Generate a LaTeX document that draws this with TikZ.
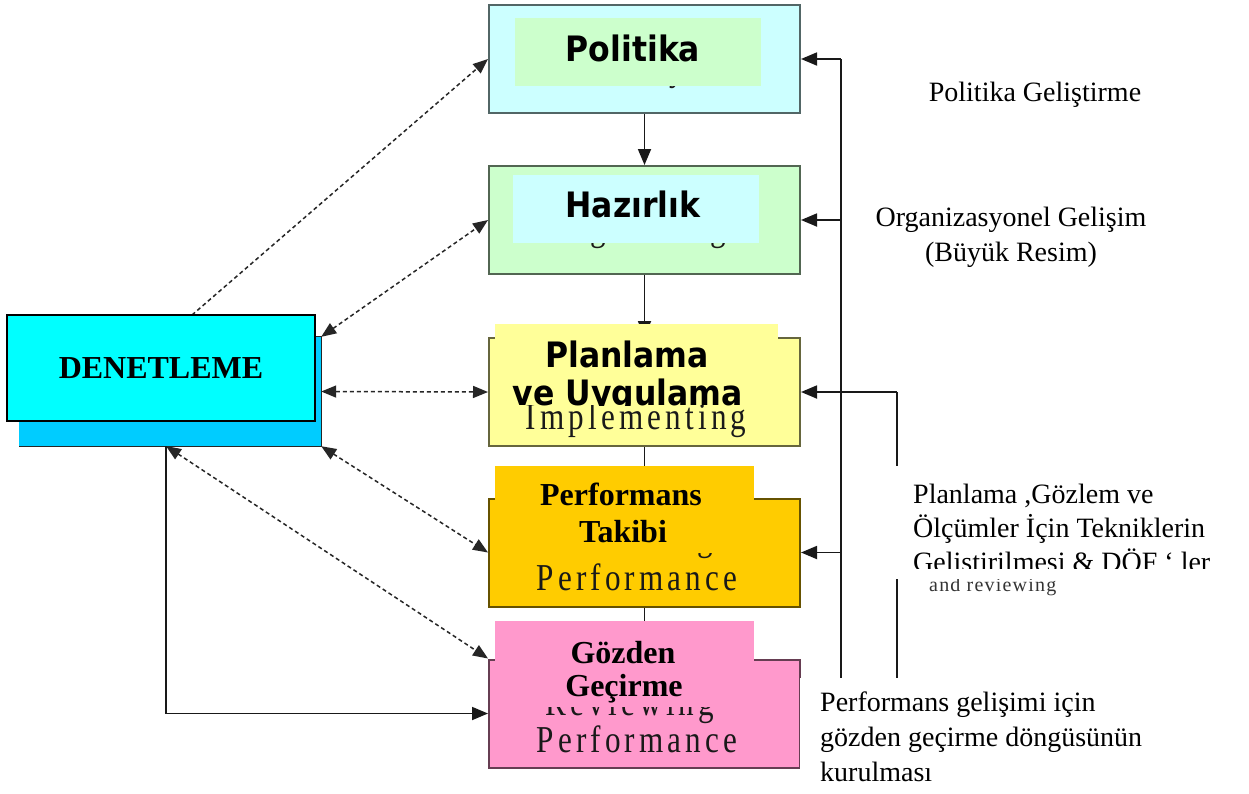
\documentclass[tikz,border=0pt]{standalone}
\usepackage{fontspec}
\setmainfont{Liberation Serif}
\newfontfamily\headsans[FakeStretch=0.9]{DejaVu Sans}
\newfontfamily\ghostserif[FakeStretch=0.82,LetterSpace=11]{Liberation Serif}
\newfontfamily\noteserif[LetterSpace=6]{Liberation Serif}
\usetikzlibrary{arrows.meta,calc}

\definecolor{polfill}{HTML}{CCFFFF}
\definecolor{hazfill}{HTML}{CCFFCC}
\definecolor{planfill}{HTML}{FFFF99}
\definecolor{perffill}{HTML}{FFCC00}
\definecolor{gozfill}{HTML}{FF99CC}
\definecolor{denfill}{HTML}{00FFFF}
\definecolor{denshade}{HTML}{00CCFF}

\tikzset{
  stage/.style={draw=#1!40!black, fill=#1, line width=2pt,
    minimum width=311pt, minimum height=108pt, inner sep=0pt},
  ghost/.style={font=\ghostserif\fontsize{38}{40}\selectfont, text=black!90,
    anchor=base, inner sep=0pt},
  headtxt/.style={font=\headsans\bfseries\fontsize{35}{38}\selectfont,
    anchor=base, inner sep=0pt},
  boldtxt/.style={font=\bfseries\fontsize{32}{36}\selectfont,
    anchor=base, inner sep=0pt},
  notetxt/.style={font=\fontsize{28}{32}\selectfont, anchor=base, inner sep=0pt},
  link/.style={line width=1.8pt, draw=black!90},
  arr/.style={link, -{Triangle[length=16pt,width=13pt]}},
  dashlink/.style={line width=1.5pt, draw=black!85, dash pattern=on 4pt off 3pt},
  dlink/.style={dashlink,
    {Triangle[length=15pt,width=12pt]}-{Triangle[length=15pt,width=12pt]}},
  dlinkone/.style={dashlink, -{Triangle[length=15pt,width=12pt]}},
}

\begin{document}
\begin{tikzpicture}[x=1pt,y=-1pt]
\useasboundingbox (0,0) rectangle (1249,793);
\fill[white] (0,0) rectangle (1249,793);

% ---- stage column ----
\node[stage=polfill]  (pol)  at (644.5,59)    {};
\node[stage=hazfill]  (haz)  at (644.5,220)   {};
\node[stage=planfill] (plan) at (644.5,392)   {};
\node[stage=perffill] (perf) at (644.5,552.5) {};
\node[stage=gozfill]  (goz)  at (644.5,713.5) {};

% original English captions underneath the Turkish labels
\node[ghost] (polE)   at (635,80)  {Policy};
\node[ghost] (hazE)   at (638,240) {Organising};
\node[ghost] (planE)  at (636,429) {Implementing};
\node[ghost] (perfE1) at (630,550) {Measuring};
\node[ghost] (perfE2) at (637,590) {Performance};
\node[ghost] (gozE1)  at (630,715) {Reviewing};
\node[ghost] (gozE2)  at (637,752) {Performance};

% links down the column
\draw[arr] (pol.south)  -- (haz.north);
\draw[arr] (haz.south)  -- (plan.north);
\draw[arr] (plan.south) -- (perf.north);
\draw[arr] (perf.south) -- (goz.north);

% Turkish label panels
\begin{scope}
  \clip (515,18) rectangle (761,86);
  \fill[hazfill] (515,18) rectangle (761,86);
  \node[headtxt] (polT) at (633,61) {Politika};
\end{scope}
\begin{scope}
  \clip (513,175) rectangle (759,243);
  \fill[polfill] (513,175) rectangle (759,243);
  \node[headtxt] (hazT) at (633,217) {Hazırlık};
\end{scope}
\begin{scope}
  \clip (495,324) rectangle (778,405);
  \fill[planfill] (495,324) rectangle (778,405);
  \node[headtxt] (planT1) at (627,367) {Planlama};
  \node[headtxt] (planT2) at (628,405) {ve Uygulama};
\end{scope}
\begin{scope}
  \clip (495,466) rectangle (754,553);
  \fill[perffill] (495,466) rectangle (754,553);
  \node[boldtxt] (perfT1) at (621,505) {Performans};
  \node[boldtxt] (perfT2) at (623,542) {Takibi};
\end{scope}
\begin{scope}
  \clip (495,621) rectangle (754,707);
  \fill[gozfill] (495,621) rectangle (754,707);
  \node[boldtxt] (gozT1) at (623,663) {Gözden};
  \node[boldtxt] (gozT2) at (624,696) {Geçirme};
\end{scope}

% ---- audit block with its shadow ----
\node[fill=denshade, minimum width=302pt, minimum height=109pt, inner sep=0pt]
  (sh) at (170,391.5) {};
\draw[line width=1.3pt, black!85]
  (sh.north west) -- (sh.north east) -- (sh.south east) -- (sh.south west);

\coordinate (denHook) at (192,315);
\coordinate (shFoot)  at (166,446);
\draw[dlinkone] (denHook) -- (pol.west);
\draw[dlink] (sh.north east) -- (haz.west);
\draw[dlink] (sh.east) -- (plan.west);
\draw[dlink] (sh.south east) -- (perf.west);
\draw[dlink] (shFoot) -- (goz.north west);
\draw[arr] (shFoot) |- (goz.west);

\node[draw=black, line width=2pt, fill=denfill, minimum width=308pt,
  minimum height=106pt, inner sep=0pt,
  font=\bfseries\fontsize{32}{36}\selectfont] (den) at (161,368) {DENETLEME};

% ---- feedback lines on the right ----
\coordinate (fbA) at (841,59);
\coordinate (fbB) at (897,392);
\draw[link] (fbA |- goz.east) -- (fbA);
\draw[arr] (fbA) -- (pol.east);
\draw[arr] (fbA |- haz.east) -- (haz.east);
\draw[arr] (fbA |- perf.east) -- (perf.east);
\draw[arr] (fbA |- goz.east) -- (goz.east);
\draw[link] (fbB |- goz.east) -- (fbB);
\draw[arr] (fbB) -- (plan.east);

% ---- notes ----
\node[notetxt] (noteA)  at (1035,101) {Politika Geliştirme};
\node[notetxt] (noteB1) at (1011,226) {Organizasyonel Gelişim};
\node[notetxt] (noteB2) at (1011,261) {(Büyük Resim)};

\node[font=\noteserif\fontsize{20}{22}\selectfont, text=black!80,
  anchor=base west, inner sep=0pt] (noteEn) at (929,591) {and reviewing};

\fill[white] (890,466) rectangle (1240,579);
\begin{scope}
  \clip (890,466) rectangle (1240,568);
  \node[notetxt, anchor=base west] (noteC1) at (913,503) {Planlama ,Gözlem ve};
  \node[notetxt, anchor=base west] (noteC2) at (913,537) {Ölçümler İçin Tekniklerin};
  \node[notetxt, anchor=base west] (noteC3) at (913,571) {Geliştirilmesi \& DÖF ‘ ler};
\end{scope}

\fill[white] (799.5,678) rectangle (1249,793);
\node[notetxt, anchor=base west] (noteD1) at (820,711) {Performans gelişimi için};
\node[notetxt, anchor=base west] (noteD2) at (820,746) {gözden geçirme döngüsünün};
\node[notetxt, anchor=base west] (noteD3) at (820,781) {kurulması};
\end{tikzpicture}
\end{document}
